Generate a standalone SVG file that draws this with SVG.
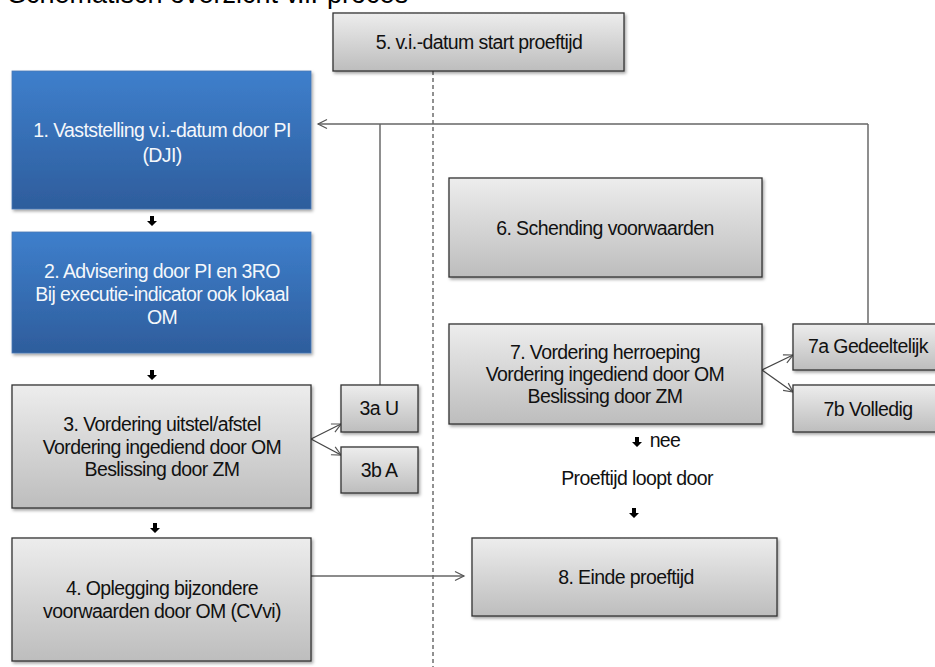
<svg xmlns="http://www.w3.org/2000/svg" xmlns:xlink="http://www.w3.org/1999/xlink" width="935" height="667" viewBox="0 0 935 667">
<defs>
<linearGradient id="gGray" x1="0" y1="0" x2="0" y2="1">
<stop offset="0" stop-color="#ededed"/><stop offset="1" stop-color="#bdbdbd"/>
</linearGradient>
<linearGradient id="gBlue" x1="0" y1="0" x2="0" y2="1">
<stop offset="0" stop-color="#3e7fcc"/><stop offset="1" stop-color="#2e5d9c"/>
</linearGradient>
<filter id="sh" x="-10%" y="-10%" width="130%" height="140%">
<feDropShadow dx="1.5" dy="2" stdDeviation="1.5" flood-color="#000" flood-opacity="0.35"/>
</filter>
<marker id="open" markerWidth="12" markerHeight="12" refX="10" refY="6" orient="auto" markerUnits="userSpaceOnUse">
<path d="M1,1.5 L10,6 L1,10.5" fill="none" stroke="#555" stroke-width="1.2"/>
</marker>
<path id="dn" d="M-2,-5 H2 V0 H5 L0,5 L-5,0 H-2 Z" fill="#000"/>
</defs>
<style>
.gray{fill:url(#gGray);stroke:#333;stroke-width:1.3;filter:url(#sh)}
.blue{fill:url(#gBlue);stroke:#4a78b4;stroke-width:0.8;filter:url(#sh)}
text{font-family:"Liberation Sans",Arial,sans-serif;font-size:19.5px;text-anchor:middle;dominant-baseline:central;letter-spacing:-0.6px}
.dark{fill:#111}
.white{fill:#f4f7fb}
.ln{fill:none;stroke:#444;stroke-width:1.2}
.lg{fill:none;stroke:#666;stroke-width:1.5}
</style>

<text x="8" y="3" style="font-size:27px;text-anchor:start;dominant-baseline:alphabetic;letter-spacing:0" fill="#000">Schematisch overzicht v.i.-proces</text>

<line x1="433" y1="71" x2="433" y2="667" stroke="#222" stroke-width="1" stroke-dasharray="4,3"/>

<g id="connectors">
<polyline class="ln" points="380,385 380,124"/>
<polyline class="ln" points="868,323 868,124"/>
<line class="lg" x1="868" y1="124" x2="318" y2="124" marker-end="url(#open)"/>
<line class="ln" x1="311" y1="439" x2="341" y2="424" marker-end="url(#open)"/>
<line class="ln" x1="311" y1="439" x2="341" y2="455" marker-end="url(#open)"/>
<line class="ln" x1="762" y1="370" x2="793" y2="355" marker-end="url(#open)"/>
<line class="ln" x1="762" y1="370" x2="793" y2="392" marker-end="url(#open)"/>
<line class="lg" x1="311" y1="576" x2="464" y2="576" marker-end="url(#open)"/>
<use xlink:href="#dn" x="152" y="221"/>
<use xlink:href="#dn" x="152" y="375"/>
<use xlink:href="#dn" x="155" y="528"/>
<use xlink:href="#dn" x="637" y="442"/>
<use xlink:href="#dn" x="634" y="513"/>
</g>

<g id="n5"><rect class="gray" x="333" y="13" width="291" height="58"/>
<text class="dark" x="479" y="42">5. v.i.-datum start proeftijd</text></g>

<g id="n1"><rect class="blue" x="12" y="71" width="299" height="138"/>
<text class="white" x="162" y="130">1. Vaststelling v.i.-datum door PI</text>
<text class="white" x="162" y="155">(DJI)</text></g>

<g id="n2"><rect class="blue" x="12" y="232" width="299" height="121"/>
<text class="white" x="162" y="271">2. Advisering door PI en 3RO</text>
<text class="white" x="162" y="294">Bij executie-indicator ook lokaal</text>
<text class="white" x="162" y="317">OM</text></g>

<g id="n3"><rect class="gray" x="12" y="385" width="299" height="123"/>
<text class="dark" x="162" y="424">3. Vordering uitstel/afstel</text>
<text class="dark" x="162" y="447">Vordering ingediend door OM</text>
<text class="dark" x="162" y="469">Beslissing door ZM</text></g>

<g id="n3a"><rect class="gray" x="341" y="385" width="77" height="47"/>
<text class="dark" x="379" y="408">3a U</text></g>

<g id="n3b"><rect class="gray" x="341" y="447" width="77" height="46"/>
<text class="dark" x="379" y="470">3b A</text></g>

<g id="n4"><rect class="gray" x="12" y="538" width="299" height="123"/>
<text class="dark" x="162" y="588">4. Oplegging bijzondere</text>
<text class="dark" x="162" y="611">voorwaarden door OM (CVvi)</text></g>

<g id="n6"><rect class="gray" x="449" y="178" width="313" height="99"/>
<text class="dark" x="605" y="228">6. Schending voorwaarden</text></g>

<g id="n7"><rect class="gray" x="449" y="324" width="313" height="100"/>
<text class="dark" x="605" y="352">7. Vordering herroeping</text>
<text class="dark" x="605" y="374">Vordering ingediend door OM</text>
<text class="dark" x="605" y="396">Beslissing door ZM</text></g>

<g id="n7a"><rect class="gray" x="793" y="324" width="150" height="46"/>
<text class="dark" x="868" y="346">7a Gedeeltelijk</text></g>

<g id="n7b"><rect class="gray" x="793" y="385" width="150" height="47"/>
<text class="dark" x="868" y="409">7b Volledig</text></g>

<g id="lbl">
<text class="dark" x="665" y="440">nee</text>
<text class="dark" x="637" y="478">Proeftijd loopt door</text>
</g>

<g id="n8"><rect class="gray" x="472" y="538" width="305" height="78"/>
<text class="dark" x="626" y="577">8. Einde proeftijd</text></g>
</svg>
